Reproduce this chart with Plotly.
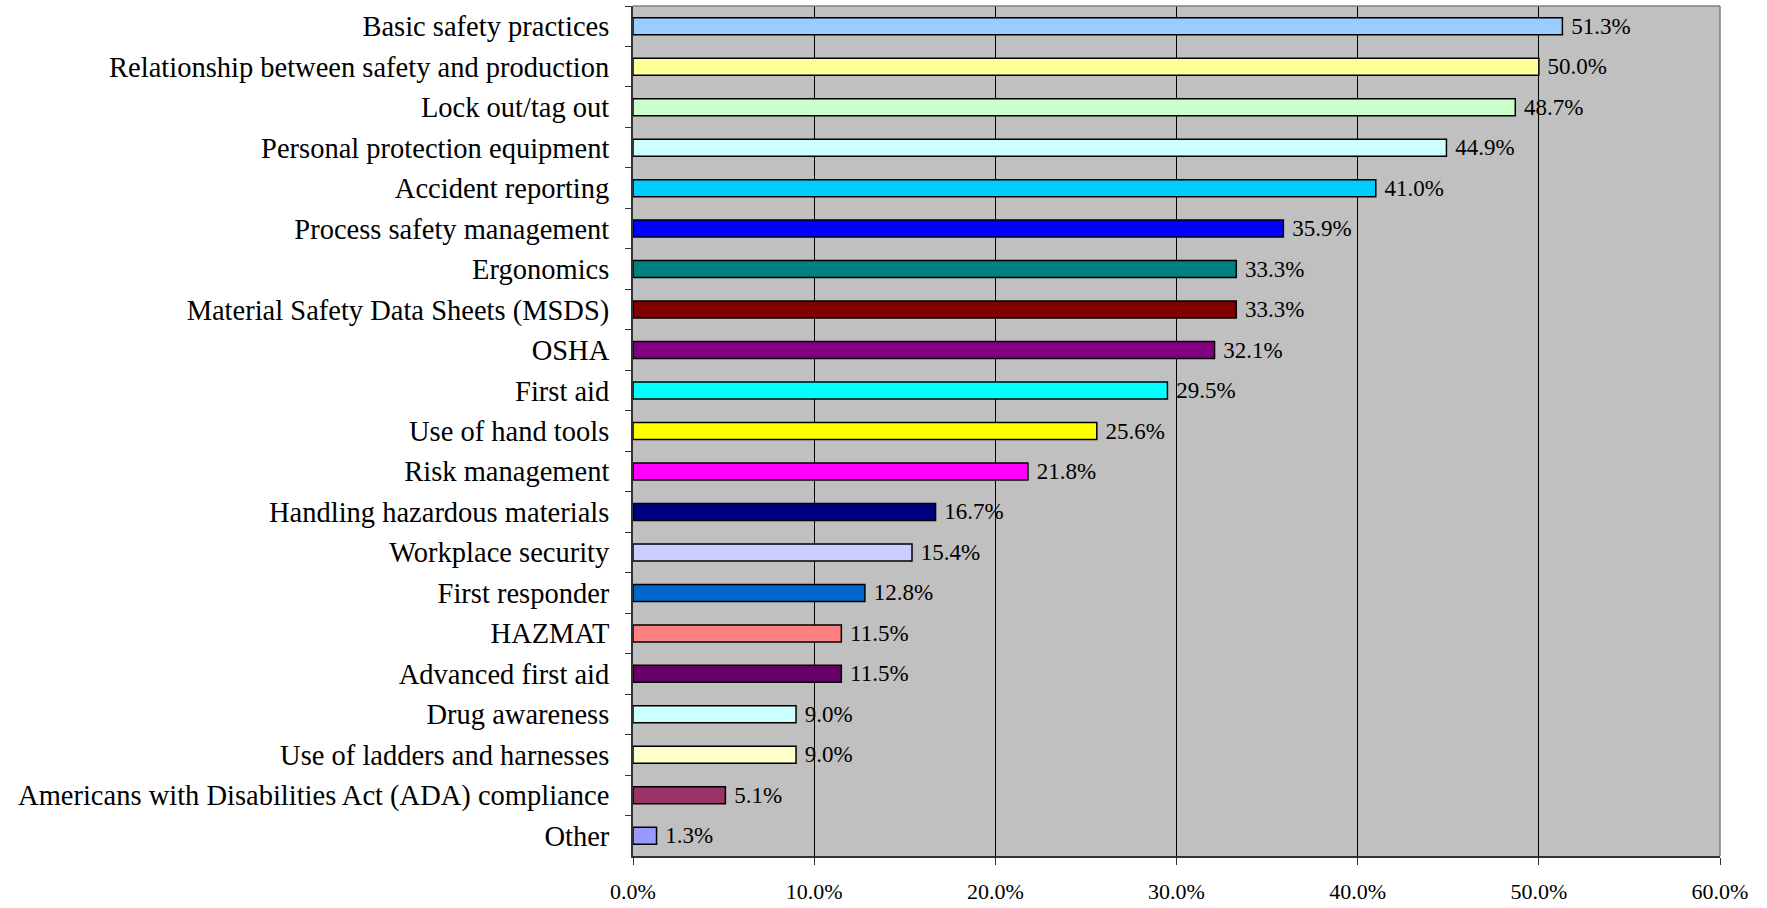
import plotly.graph_objects as go

categories = [
    "Basic safety practices",
    "Relationship between safety and production",
    "Lock out/tag out",
    "Personal protection equipment",
    "Accident reporting",
    "Process safety management",
    "Ergonomics",
    "Material Safety Data Sheets (MSDS)",
    "OSHA",
    "First aid",
    "Use of hand tools",
    "Risk management",
    "Handling hazardous materials",
    "Workplace security",
    "First responder",
    "HAZMAT",
    "Advanced first aid",
    "Drug awareness",
    "Use of ladders and harnesses",
    "Americans with Disabilities Act (ADA) compliance",
    "Other",
]
values = [0.513, 0.500, 0.487, 0.449, 0.410, 0.359, 0.333, 0.333, 0.321, 0.295,
          0.256, 0.218, 0.167, 0.154, 0.128, 0.115, 0.115, 0.090, 0.090, 0.051, 0.013]
colors = ["#99CCFF", "#FFFF99", "#CCFFCC", "#CCFFFF", "#00CCFF", "#0000FF", "#008080",
          "#800000", "#800080", "#00FFFF", "#FFFF00", "#FF00FF", "#000080", "#CCCCFF",
          "#0066CC", "#FF8080", "#660066", "#CCFFFF", "#FFFFCC", "#993366", "#9999FF"]
x_ticks = [0, 0.1, 0.2, 0.3, 0.4, 0.5, 0.6]

FONT = "Liberation Serif"

fig = go.Figure(go.Bar(
    x=values, y=categories, orientation="h",
    marker=dict(color=colors, line=dict(color="black", width=1.5)),
    texttemplate="\u00a0%{x:.1%}", textposition="outside", cliponaxis=False,
    constraintext="none",
    textfont=dict(family=FONT, size=23, color="black"),
))

fig.update_layout(
    width=1767, height=908,
    margin=dict(l=633, r=47, t=6, b=52, autoexpand=False),
    paper_bgcolor="white", plot_bgcolor="#C0C0C0",
    bargap=0.58, showlegend=False,
    font=dict(family=FONT, color="black"),
    shapes=[
        dict(type="line", xref="paper", yref="paper", x0=0, x1=1, y0=1, y1=1,
             line=dict(color="#808080", width=1.5)),
        dict(type="line", xref="paper", yref="paper", x0=1, x1=1, y0=0, y1=1,
             line=dict(color="#808080", width=1.5)),
    ],
)
fig.update_xaxes(
    range=[0, 0.6], tickvals=x_ticks, tickformat=".1%",
    showgrid=True, gridcolor="black", gridwidth=1,
    showline=True, linecolor="#333333", linewidth=2,
    ticks="outside", ticklen=7, tickcolor="#333333",
    tickfont=dict(family=FONT, size=22, color="black"),
    ticklabelstandoff=8, zeroline=False, automargin=False,
)
fig.update_yaxes(
    autorange="reversed", tickson="boundaries",
    showgrid=False, showline=True, linecolor="#333333", linewidth=2,
    ticks="outside", ticklen=6, tickcolor="#333333",
    tickfont=dict(family=FONT, size=28.5, color="black"),
    ticklabelstandoff=16, automargin=False,
)

fig.write_html("out.html")
